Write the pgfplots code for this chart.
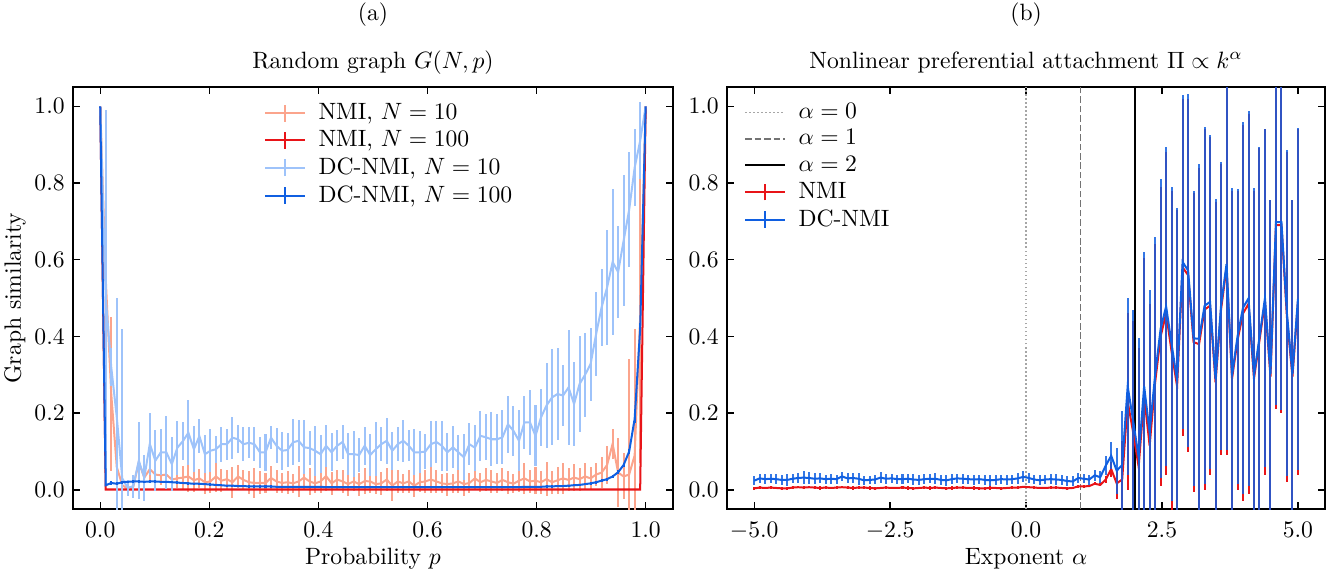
\documentclass[border=0pt]{standalone}
\usepackage{pgfplots}
\pgfplotsset{compat=1.18}
\usepackage{pgfplotstable}
\definecolor{salmon}{RGB}{251,164,140}
\definecolor{myred}{RGB}{232,20,24}
\definecolor{lblue}{RGB}{158,195,250}
\definecolor{myblue}{RGB}{16,95,225}

\pgfplotstableread{
p a ae b be c ce d de
0.0000 1.000 0.000 1.000 0 1.000 0.000 1.000 0.000
0.0101 0.550 0.300 0.001 0 0.500 0.490 0.012 0.003
0.0202 0.250 0.200 0.001 0 0.320 0.050 0.018 0.004
0.0303 0.060 0.100 0.001 0 0.190 0.310 0.016 0.004
0.0404 0.012 0.030 0.001 0 0.030 0.390 0.020 0.004
0.0505 0.003 0.010 0.001 0 0.005 0.020 0.021 0.003
0.0606 0.008 0.020 0.001 0 0.010 0.030 0.022 0.003
0.0707 0.072 0.040 0.001 0 0.076 0.100 0.022 0.003
0.0808 0.032 0.030 0.001 0 0.032 0.060 0.021 0.003
0.0909 0.054 0.030 0.001 0 0.120 0.080 0.022 0.003
0.1010 0.040 0.030 0.001 0 0.076 0.080 0.022 0.003
0.1111 0.038 0.025 0.001 0 0.098 0.060 0.021 0.003
0.1212 0.040 0.030 0.001 0 0.098 0.095 0.021 0.003
0.1313 0.027 0.030 0.001 0 0.067 0.070 0.020 0.003
0.1414 0.030 0.025 0.001 0 0.110 0.070 0.019 0.003
0.1515 0.032 0.030 0.001 0 0.127 0.050 0.018 0.003
0.1616 0.035 0.040 0.001 0 0.149 0.085 0.017 0.003
0.1717 0.025 0.030 0.001 0 0.106 0.060 0.016 0.003
0.1818 0.030 0.025 0.001 0 0.140 0.045 0.016 0.003
0.1919 0.020 0.030 0.001 0 0.093 0.050 0.015 0.003
0.2020 0.022 0.030 0.001 0 0.102 0.056 0.014 0.003
0.2121 0.035 0.040 0.001 0 0.106 0.035 0.013 0.003
0.2222 0.024 0.030 0.001 0 0.119 0.046 0.012 0.003
0.2323 0.028 0.025 0.001 0 0.119 0.040 0.011 0.003
0.2424 0.020 0.040 0.001 0 0.136 0.055 0.011 0.003
0.2525 0.035 0.030 0.001 0 0.132 0.037 0.010 0.003
0.2626 0.026 0.025 0.001 0 0.119 0.044 0.010 0.003
0.2727 0.020 0.030 0.001 0 0.123 0.040 0.009 0.003
0.2828 0.018 0.040 0.001 0 0.119 0.045 0.009 0.003
0.2929 0.018 0.030 0.001 0 0.098 0.041 0.009 0.003
0.3030 0.018 0.025 0.001 0 0.098 0.048 0.009 0.003
0.3131 0.031 0.030 0.001 0 0.136 0.030 0.009 0.003
0.3232 0.022 0.030 0.001 0 0.115 0.046 0.008 0.003
0.3333 0.018 0.025 0.001 0 0.102 0.050 0.008 0.003
0.3434 0.020 0.030 0.001 0 0.104 0.045 0.008 0.003
0.3535 0.017 0.025 0.001 0 0.124 0.060 0.008 0.003
0.3636 0.022 0.040 0.001 0 0.128 0.055 0.008 0.003
0.3737 0.032 0.030 0.001 0 0.111 0.070 0.008 0.003
0.3838 0.022 0.035 0.001 0 0.109 0.045 0.008 0.003
0.3939 0.017 0.025 0.001 0 0.102 0.065 0.008 0.003
0.4040 0.022 0.030 0.001 0 0.093 0.050 0.008 0.003
0.4141 0.036 0.040 0.001 0 0.115 0.055 0.007 0.003
0.4242 0.017 0.030 0.001 0 0.098 0.050 0.007 0.003
0.4343 0.027 0.025 0.001 0 0.115 0.040 0.007 0.003
0.4444 0.022 0.030 0.001 0 0.125 0.045 0.007 0.003
0.4545 0.015 0.030 0.001 0 0.093 0.055 0.007 0.003
0.4646 0.022 0.025 0.001 0 0.093 0.060 0.007 0.003
0.4747 0.015 0.030 0.001 0 0.091 0.045 0.007 0.003
0.4848 0.023 0.035 0.001 0 0.115 0.050 0.007 0.003
0.4949 0.022 0.030 0.001 0 0.091 0.055 0.007 0.003
0.5051 0.015 0.025 0.001 0 0.106 0.070 0.007 0.003
0.5152 0.017 0.030 0.001 0 0.119 0.045 0.007 0.003
0.5253 0.027 0.030 0.001 0 0.128 0.060 0.007 0.003
0.5354 0.011 0.040 0.001 0 0.102 0.050 0.007 0.003
0.5455 0.022 0.030 0.001 0 0.119 0.045 0.007 0.003
0.5556 0.017 0.025 0.001 0 0.128 0.055 0.007 0.003
0.5657 0.022 0.030 0.001 0 0.115 0.040 0.007 0.003
0.5758 0.011 0.030 0.001 0 0.098 0.060 0.007 0.003
0.5859 0.020 0.025 0.001 0 0.098 0.055 0.007 0.003
0.5960 0.022 0.030 0.001 0 0.100 0.045 0.007 0.003
0.6061 0.027 0.035 0.001 0 0.119 0.060 0.007 0.003
0.6162 0.022 0.030 0.001 0 0.125 0.055 0.007 0.003
0.6263 0.017 0.025 0.001 0 0.115 0.065 0.007 0.003
0.6364 0.015 0.030 0.001 0 0.098 0.050 0.007 0.003
0.6465 0.017 0.025 0.001 0 0.111 0.055 0.007 0.003
0.6566 0.022 0.030 0.001 0 0.098 0.045 0.007 0.003
0.6667 0.015 0.030 0.001 0 0.085 0.060 0.007 0.003
0.6768 0.018 0.025 0.001 0 0.119 0.055 0.007 0.003
0.6869 0.030 0.030 0.001 0 0.110 0.060 0.007 0.003
0.6970 0.020 0.025 0.001 0 0.141 0.065 0.007 0.003
0.7071 0.026 0.030 0.001 0 0.137 0.060 0.007 0.003
0.7172 0.022 0.030 0.001 0 0.132 0.070 0.007 0.003
0.7273 0.018 0.025 0.001 0 0.132 0.065 0.007 0.003
0.7374 0.026 0.030 0.001 0 0.137 0.070 0.007 0.003
0.7475 0.020 0.030 0.001 0 0.171 0.075 0.007 0.003
0.7576 0.016 0.025 0.001 0 0.154 0.065 0.007 0.003
0.7677 0.024 0.030 0.001 0 0.128 0.080 0.007 0.003
0.7778 0.030 0.040 0.001 0 0.176 0.070 0.008 0.003
0.7879 0.022 0.030 0.001 0 0.176 0.085 0.008 0.003
0.7980 0.024 0.035 0.001 0 0.141 0.080 0.008 0.003
0.8081 0.020 0.030 0.001 0 0.189 0.075 0.008 0.003
0.8182 0.028 0.045 0.001 0 0.220 0.110 0.009 0.003
0.8283 0.020 0.030 0.001 0 0.241 0.125 0.009 0.003
0.8384 0.025 0.035 0.001 0 0.250 0.120 0.010 0.003
0.8485 0.030 0.040 0.001 0 0.246 0.080 0.010 0.003
0.8586 0.026 0.030 0.001 0 0.267 0.150 0.011 0.003
0.8687 0.032 0.035 0.001 0 0.224 0.110 0.012 0.003
0.8788 0.028 0.030 0.001 0 0.276 0.125 0.013 0.003
0.8889 0.035 0.035 0.001 0 0.300 0.110 0.015 0.003
0.8990 0.030 0.030 0.001 0 0.328 0.095 0.017 0.003
0.9091 0.040 0.030 0.001 0 0.406 0.110 0.020 0.004
0.9192 0.045 0.040 0.001 0 0.476 0.100 0.024 0.004
0.9293 0.065 0.050 0.001 0 0.528 0.150 0.028 0.004
0.9394 0.120 0.040 0.001 0 0.594 0.190 0.035 0.004
0.9495 0.045 0.090 0.001 0 0.568 0.120 0.046 0.005
0.9596 0.035 0.060 0.001 0 0.650 0.170 0.065 0.006
0.9697 0.040 0.300 0.001 0 0.730 0.150 0.100 0.007
0.9798 0.090 0.330 0.001 0 0.840 0.100 0.185 0.010
0.9899 0.450 0.380 0.001 0 0.910 0.100 0.420 0.015
1.0000 1.000 0.000 1.000 0 1.000 0.000 1.000 0.000
}\leftdata

\pgfplotstableread{
a r re b be
-5.0000 0.004 0.004 0.024 0.012
-4.8990 0.006 0.003 0.030 0.012
-4.7980 0.005 0.003 0.028 0.013
-4.6970 0.006 0.004 0.029 0.012
-4.5960 0.005 0.003 0.028 0.013
-4.4949 0.004 0.003 0.026 0.014
-4.3939 0.004 0.004 0.026 0.015
-4.2929 0.006 0.003 0.029 0.012
-4.1919 0.007 0.003 0.031 0.014
-4.0909 0.006 0.004 0.032 0.016
-3.9899 0.007 0.003 0.031 0.015
-3.8889 0.006 0.003 0.029 0.014
-3.7879 0.005 0.004 0.030 0.013
-3.6869 0.006 0.003 0.028 0.012
-3.5859 0.005 0.003 0.029 0.013
-3.4848 0.006 0.004 0.028 0.012
-3.3838 0.007 0.003 0.035 0.012
-3.2828 0.006 0.003 0.030 0.013
-3.1818 0.005 0.004 0.031 0.014
-3.0808 0.006 0.003 0.029 0.015
-2.9798 0.006 0.003 0.025 0.012
-2.8788 0.005 0.004 0.026 0.011
-2.7778 0.004 0.003 0.027 0.012
-2.6768 0.005 0.003 0.032 0.014
-2.5758 0.006 0.004 0.029 0.013
-2.4747 0.005 0.003 0.030 0.012
-2.3737 0.005 0.003 0.028 0.012
-2.2727 0.006 0.003 0.028 0.013
-2.1717 0.005 0.004 0.029 0.012
-2.0707 0.004 0.003 0.027 0.014
-1.9697 0.005 0.003 0.026 0.012
-1.8687 0.006 0.003 0.028 0.013
-1.7677 0.005 0.004 0.029 0.012
-1.6667 0.006 0.003 0.029 0.014
-1.5657 0.005 0.003 0.026 0.013
-1.4646 0.004 0.003 0.025 0.015
-1.3636 0.005 0.004 0.028 0.013
-1.2626 0.006 0.003 0.030 0.012
-1.1616 0.006 0.003 0.029 0.013
-1.0606 0.005 0.003 0.028 0.012
-0.9596 0.005 0.004 0.027 0.013
-0.8586 0.004 0.003 0.028 0.012
-0.7576 0.004 0.003 0.026 0.013
-0.6566 0.005 0.004 0.025 0.014
-0.5556 0.005 0.003 0.026 0.013
-0.4545 0.004 0.003 0.028 0.012
-0.3535 0.005 0.003 0.027 0.013
-0.2525 0.006 0.004 0.028 0.012
-0.1515 0.006 0.003 0.030 0.014
-0.0505 0.008 0.003 0.034 0.014
0.0505 0.007 0.003 0.031 0.013
0.1515 0.006 0.004 0.027 0.012
0.2525 0.005 0.003 0.025 0.013
0.3535 0.005 0.003 0.027 0.012
0.4545 0.006 0.003 0.028 0.013
0.5556 0.006 0.004 0.027 0.014
0.6566 0.005 0.003 0.026 0.012
0.7576 0.004 0.003 0.023 0.012
0.8586 0.005 0.003 0.022 0.013
0.9596 0.009 0.004 0.031 0.014
1.0606 0.009 0.003 0.029 0.012
1.1616 0.010 0.003 0.027 0.013
1.2626 0.016 0.004 0.038 0.014
1.3636 0.013 0.004 0.033 0.016
1.4646 0.027 0.010 0.063 0.025
1.5657 0.054 0.020 0.089 0.035
1.6667 0.017 0.040 0.050 0.060
1.7677 0.027 0.100 0.065 0.140
1.8687 0.230 0.230 0.270 0.230
1.9697 0.150 0.290 0.180 0.290
2.0707 0.060 0.310 0.085 0.310
2.1717 0.245 0.360 0.270 0.350
2.2727 0.115 0.370 0.150 0.370
2.3737 0.280 0.360 0.300 0.360
2.4747 0.400 0.390 0.420 0.390
2.5758 0.460 0.420 0.478 0.415
2.6768 0.360 0.420 0.380 0.410
2.7778 0.270 0.460 0.285 0.450
2.8788 0.580 0.440 0.594 0.435
2.9798 0.560 0.460 0.572 0.460
3.0808 0.385 0.390 0.395 0.385
3.1818 0.380 0.460 0.394 0.455
3.2828 0.470 0.470 0.480 0.465
3.3838 0.480 0.440 0.490 0.435
3.4848 0.280 0.470 0.289 0.470
3.5859 0.470 0.380 0.480 0.375
3.6869 0.580 0.490 0.589 0.485
3.7879 0.290 0.490 0.298 0.490
3.8889 0.390 0.390 0.400 0.385
3.9899 0.460 0.490 0.475 0.485
4.0909 0.485 0.495 0.499 0.490
4.1919 0.290 0.490 0.298 0.490
4.2929 0.390 0.500 0.398 0.495
4.3939 0.490 0.450 0.500 0.440
4.4949 0.295 0.460 0.302 0.455
4.5960 0.690 0.480 0.698 0.478
4.6970 0.690 0.490 0.698 0.490
4.7980 0.450 0.430 0.460 0.425
4.8990 0.295 0.460 0.302 0.455
5.0000 0.490 0.450 0.498 0.445
}\rightdata

\pgfplotsset{
  common/.style={
    scale only axis, width=254.1pt, height=178.7pt,
    ymin=-0.05, ymax=1.05,
    ytick={0,0.2,0.4,0.6,0.8,1.0},
    tick align=inside,
    major tick length=3pt,
    tick style={black, line width=0.6pt},
    axis line style={line width=1.1pt},
    every tick label/.append style={/pgf/number format/fixed, /pgf/number format/fixed zerofill, /pgf/number format/precision=1},
    x tick label style={yshift=-2pt},
    every axis y label/.style={at={(rel axis cs:0,0.5)}, xshift=-24.6pt, rotate=90, anchor=center},
    every axis x label/.style={at={(rel axis cs:0.5,0)}, yshift=-23.3pt, anchor=base},
    legend cell align=left,
    legend style={draw=none, fill=none, anchor=north west, inner sep=0pt, row sep=-0.8pt, /tikz/every odd column/.append style={column sep=3.5pt}},
    clip mode=individual,
  },
  errlegend/.style={legend image code/.code={\draw[##1] (0cm,0cm) -- (0.585cm,0cm); \draw[##1] (0.2925cm,-0.125cm) -- (0.2925cm,0.125cm);}},
  linelegend/.style={legend image code/.code={\draw[##1] (0cm,0cm) -- (0.585cm,0cm);}},
}

\begin{document}
\begin{tikzpicture}
\useasboundingbox (-30.9pt,-26.7pt) rectangle (531.1pt,215.6pt);
\begin{axis}[common, name=L,
  xmin=-0.05, xmax=1.05,
  xtick={0,0.2,0.4,0.6,0.8,1.0},
  xlabel={Probability $p$},
  ylabel={Graph similarity},
  legend style={at={(0.318,0.974)}},
]
\addplot[salmon, line width=0.85pt, no marks, errlegend, error bars/.cd, y dir=both, y explicit, error mark=none, error bar style={line width=0.85pt, salmon}] table[x=p, y=a, y error=ae]{\leftdata};
\addlegendentry{NMI, $N=10$}
\addplot[myred, line width=0.85pt, no marks, errlegend, error bars/.cd, y dir=both, y explicit, error mark=none, error bar style={line width=0.85pt, myred}] table[x=p, y=b, y error=be]{\leftdata};
\addlegendentry{NMI, $N=100$}
\addplot[lblue, line width=0.85pt, no marks, errlegend, error bars/.cd, y dir=both, y explicit, error mark=none, error bar style={line width=0.85pt, lblue}] table[x=p, y=c, y error=ce]{\leftdata};
\addlegendentry{DC-NMI, $N=10$}
\addplot[myblue, line width=0.85pt, no marks, errlegend, error bars/.cd, y dir=both, y explicit, error mark=none, error bar style={line width=0.85pt, myblue}] table[x=p, y=d, y error=de]{\leftdata};
\addlegendentry{DC-NMI, $N=100$}
\end{axis}
\node[anchor=base] at ([yshift=8pt]L.north) {Random graph $G(N,p)$};
\node[anchor=base] at ([yshift=28pt]L.north) {(a)};

\begin{axis}[common, name=R, at={(277pt,0pt)}, anchor=south west,
  width=253.3pt,
  xmin=-5.5, xmax=5.5,
  xtick={-5,-2.5,0,2.5,5},
  yticklabel={},
  xlabel={Exponent $\alpha$},
  legend style={at={(0.028,0.974)}},
]
\addplot[black!35, densely dotted, line width=0.7pt, linelegend] coordinates {(0,-0.05) (0,1.05)};
\addlegendentry{$\alpha=0$}
\addplot[black!55, dash pattern=on 2.8pt off 1.2pt, line width=0.7pt, linelegend] coordinates {(1,-0.05) (1,1.05)};
\addlegendentry{$\alpha=1$}
\addplot[black, line width=0.85pt, linelegend] coordinates {(2,-0.05) (2,1.05)};
\addlegendentry{$\alpha=2$}
\addplot[myred, line width=0.85pt, no marks, errlegend, error bars/.cd, y dir=both, y explicit, error mark=none, error bar style={line width=0.85pt, myred}] table[x=a, y=r, y error=re]{\rightdata};
\addlegendentry{NMI}
\addplot[myblue, line width=0.85pt, no marks, errlegend, error bars/.cd, y dir=both, y explicit, error mark=none, error bar style={line width=0.85pt, myblue, opacity=0.85}] table[x=a, y=b, y error=be]{\rightdata};
\addlegendentry{DC-NMI}
\end{axis}
\node[anchor=base] at ([yshift=8pt]R.north) {Nonlinear preferential attachment $\Pi\propto k^{\alpha}$};
\node[anchor=base] at ([yshift=28pt]R.north) {(b)};
\end{tikzpicture}
\end{document}
